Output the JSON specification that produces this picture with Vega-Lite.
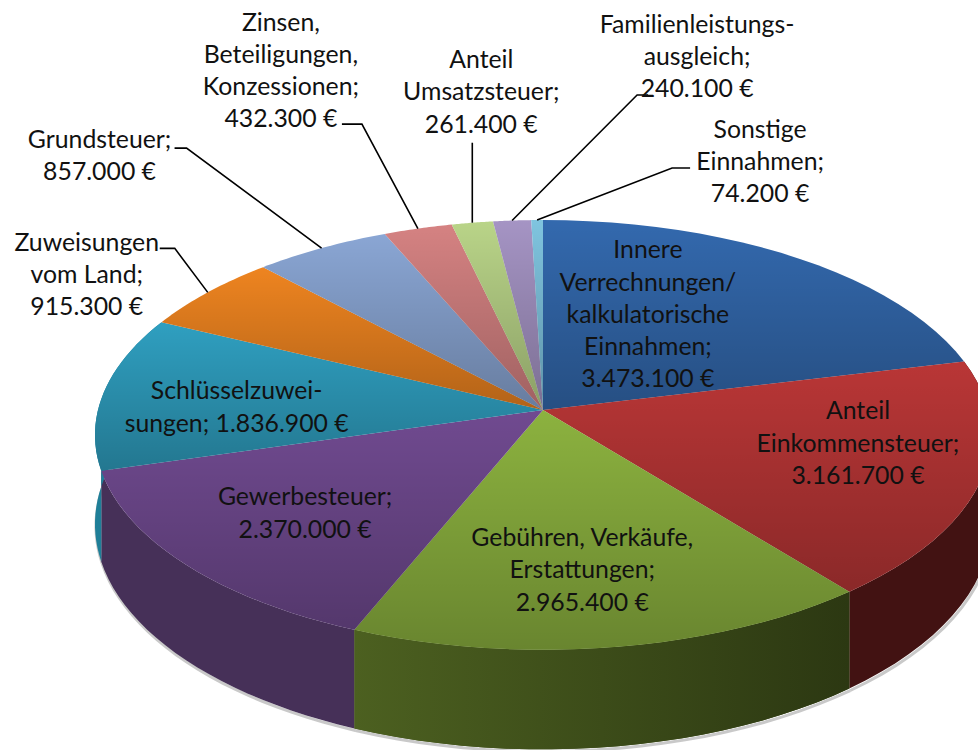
{
"$schema":"https://vega.github.io/schema/vega-lite/v6.json",
"width":978,"height":750,"padding":0,"autosize":{"type":"none"},"background":"white",
"config":{"view":{"stroke":null}},
"data":{"values":[
{"name":"Innere Verrechnungen","value":3473100,"label":"Innere\nVerrechnungen/\nkalkulatorische\nEinnahmen;\n3.473.100 €"},
{"name":"Anteil Einkommensteuer","value":3161700,"label":"Anteil\nEinkommensteuer;\n3.161.700 €"},
{"name":"Gebühren","value":2965400,"label":"Gebühren, Verkäufe,\nErstattungen;\n2.965.400 €"},
{"name":"Gewerbesteuer","value":2370000,"label":"Gewerbesteuer;\n2.370.000 €"},
{"name":"Schlüsselzuweisungen","value":1836900,"label":"Schlüsselzuwei-\nsungen; 1.836.900 €"},
{"name":"Zuweisungen vom Land","value":915300,"label":"Zuweisungen\nvom Land;\n915.300 €"},
{"name":"Grundsteuer","value":857000,"label":"Grundsteuer;\n857.000 €"},
{"name":"Zinsen","value":432300,"label":"Zinsen,\nBeteiligungen,\nKonzessionen;\n432.300 €"},
{"name":"Anteil Umsatzsteuer","value":261400,"label":"Anteil\nUmsatzsteuer;\n261.400 €"},
{"name":"Familienleistungsausgleich","value":240100,"label":"Familienleistungs-\nausgleich;\n240.100 €"},
{"name":"Sonstige Einnahmen","value":74200,"label":"Sonstige\nEinnahmen;\n74.200 €"}
]},
"transform":[
{"joinaggregate":[{"op":"sum","field":"value","as":"total"}]},
{"window":[{"op":"sum","field":"value","as":"cum"}]},
{"calculate":"datum.cum/datum.total*2*PI","as":"a1"},
{"calculate":"(datum.cum-datum.value)/datum.total*2*PI","as":"a0"},
{"calculate":"(datum.a0+datum.a1)/2","as":"mid"},
{"calculate":"datum.mid-0.0436*(1-cos(datum.mid))+0.0524*sin(datum.mid)","as":"mpsi"},
{"calculate":"543+445*sin(datum.mpsi)/(1+0.116*cos(datum.mpsi))","as":"rimx"},
{"calculate":"410-212*cos(datum.mpsi)/(1+0.116*cos(datum.mpsi))","as":"rimy"}
],
"layer":[
{
"transform":[
{"filter":"datum.a0>1.3 && datum.a0<4.6"},
{"calculate":"[0,1,2,3,4,5,6,7,8,9,10,11,12,13,14,15,16,17,18,19,20,21,22,23,24]","as":"k"},
{"flatten":["k"]},
{"calculate":"datum.a0+(datum.a1-datum.a0)*datum.k/24","as":"th"},
{"calculate":"datum.th-0.0436*(1-cos(datum.th))+0.0524*sin(datum.th)","as":"psi"},
{"calculate":"1+0.116*cos(datum.psi)","as":"w"},
{"calculate":"543+445*sin(datum.psi)/datum.w+1","as":"px"},
{"calculate":"410-212*cos(datum.psi)/datum.w+88/datum.w+2","as":"py"}
],
"mark":{"type":"line","color":"#888","opacity":0.45,"strokeWidth":3,"interpolate":"linear"},
"encoding":{
"x":{"field":"px","type":"quantitative","axis":null,"scale":{"domain":[0,978],"nice":false,"zero":false}},
"y":{"field":"py","type":"quantitative","axis":null,"scale":{"domain":[750,0],"nice":false,"zero":false}},
"order":{"field":"k","type":"quantitative"},
"detail":{"field":"name","type":"nominal"}
}
},
{
"transform":[
{"filter":"datum.a0>1.3 && datum.a0<4.6"},
{"calculate":"[0,1,2,3,4,5,6,7,8,9,10,11,12,13,14,15,16,17,18,19,20,21,22,23,24,25,26,27,28,29,30,31,32,33,34,35,36,37,38,39,40,41,42,43,44,45,46,47,48,49]","as":"k"},
{"flatten":["k"]},
{"calculate":"datum.k<=24?datum.k/24:(49-datum.k)/24","as":"tt"},
{"calculate":"datum.a0+(datum.a1-datum.a0)*datum.tt","as":"th"},
{"calculate":"datum.th-0.0436*(1-cos(datum.th))+0.0524*sin(datum.th)","as":"psi"},
{"calculate":"1+0.116*cos(datum.psi)","as":"w"},
{"calculate":"543+445*sin(datum.psi)/datum.w","as":"px"},
{"calculate":"410-212*cos(datum.psi)/datum.w+(datum.k<=24?0:88/datum.w)","as":"py"}
],
"mark":{"type":"line","filled":true,"strokeWidth":0,"interpolate":"linear"},
"encoding":{
"x":{"field":"px","type":"quantitative","axis":null},
"y":{"field":"py","type":"quantitative","axis":null},
"order":{"field":"k","type":"quantitative"},
"fill":{"field":"name","type":"nominal","legend":null,"scale":{
"domain":["Anteil Einkommensteuer","Gebühren","Gewerbesteuer","Schlüsselzuweisungen"],
"range":["#421212","#3c4a18","#463058","#1f7f98"]}}
}
},
{
"transform":[
{"filter":"datum.name=='Gebühren'"},
{"calculate":"[0,1,2,3,4,5,6,7,8,9,10,11,12,13,14,15,16,17,18,19,20,21,22,23,24,25,26,27,28,29,30,31,32,33,34,35,36,37,38,39,40,41,42,43,44,45,46,47,48,49]","as":"k"},
{"flatten":["k"]},
{"calculate":"datum.k<=24?datum.k/24:(49-datum.k)/24","as":"tt"},
{"calculate":"datum.a0+(datum.a1-datum.a0)*datum.tt","as":"th"},
{"calculate":"datum.th-0.0436*(1-cos(datum.th))+0.0524*sin(datum.th)","as":"psi"},
{"calculate":"1+0.116*cos(datum.psi)","as":"w"},
{"calculate":"543+445*sin(datum.psi)/datum.w","as":"px"},
{"calculate":"410-212*cos(datum.psi)/datum.w+(datum.k<=24?0:88/datum.w)","as":"py"}
],
"mark":{"type":"line","filled":true,"strokeWidth":0,"interpolate":"linear","fill":{"gradient":"linear","x1":0,"x2":1,"y1":0,"y2":0,"stops":[{"offset":0,"color":"#4c6020"},{"offset":1,"color":"#2c3812"}]}},
"encoding":{
"x":{"field":"px","type":"quantitative","axis":null},
"y":{"field":"py","type":"quantitative","axis":null},
"order":{"field":"k","type":"quantitative"}
}
},
{
"transform":[
{"calculate":"[-1,0,1,2,3,4,5,6,7,8,9,10,11,12,13,14,15,16,17,18,19,20,21,22,23,24]","as":"k"},
{"flatten":["k"]},
{"calculate":"datum.a0+(datum.a1-datum.a0)*datum.k/24","as":"th"},
{"calculate":"datum.th-0.0436*(1-cos(datum.th))+0.0524*sin(datum.th)","as":"psi"},
{"calculate":"1+0.116*cos(datum.psi)","as":"w"},
{"calculate":"datum.k<0?543:543+445*sin(datum.psi)/datum.w","as":"px"},
{"calculate":"datum.k<0?410:410-212*cos(datum.psi)/datum.w","as":"py"}
],
"mark":{"type":"line","filled":true,"strokeWidth":0,"interpolate":"linear"},
"encoding":{
"x":{"field":"px","type":"quantitative","axis":null},
"y":{"field":"py","type":"quantitative","axis":null},
"order":{"field":"k","type":"quantitative"},
"fill":{"field":"name","type":"nominal","legend":null,"scale":{
"domain":["Innere Verrechnungen","Anteil Einkommensteuer","Gebühren","Gewerbesteuer","Schlüsselzuweisungen","Zuweisungen vom Land","Grundsteuer","Zinsen","Anteil Umsatzsteuer","Familienleistungsausgleich","Sonstige Einnahmen"],
"range":["#3369ae","#b93636","#8cb23f","#704a90","#2f9fc0","#ee8420","#8aa6d4","#d58282","#b9d488","#a594c4","#7fc4df"]}}
}
},
{
"transform":[
{"calculate":"[-1,0,1,2,3,4,5,6,7,8,9,10,11,12,13,14,15,16,17,18,19,20,21,22,23,24]","as":"k"},
{"flatten":["k"]},
{"calculate":"datum.a0+(datum.a1-datum.a0)*datum.k/24","as":"th"},
{"calculate":"datum.th-0.0436*(1-cos(datum.th))+0.0524*sin(datum.th)","as":"psi"},
{"calculate":"1+0.116*cos(datum.psi)","as":"w"},
{"calculate":"datum.k<0?543:543+445*sin(datum.psi)/datum.w","as":"px"},
{"calculate":"datum.k<0?410:410-212*cos(datum.psi)/datum.w","as":"py"}
],
"mark":{"type":"line","filled":true,"strokeWidth":0,"interpolate":"linear","fill":{"gradient":"linear","x1":0,"x2":0,"y1":0,"y2":1,"stops":[{"offset":0,"color":"rgba(0,0,0,0)"},{"offset":1,"color":"rgba(0,0,0,0.25)"}]}},
"encoding":{
"x":{"field":"px","type":"quantitative","axis":null},
"y":{"field":"py","type":"quantitative","axis":null},
"order":{"field":"k","type":"quantitative"},
"detail":{"field":"name","type":"nominal"}
}
},
{
"transform":[
{"filter":"datum.a0>5"},
{"calculate":"{'Zuweisungen vom Land':[-33,-44,-48,-44],'Grundsteuer':[-135,-100,-147,-100],'Zinsen':[-56,-104.5,-76,-104.5],'Anteil Umsatzsteuer':[0,-80,0,-80],'Familienleistungsausgleich':[125,-125.5,136,-125.5],'Sonstige Einnahmen':[135,-52,153,-52]}[datum.name]","as":"off"},
{"calculate":"[0,1,2]","as":"k"},
{"flatten":["k"]},
{"calculate":"datum.k==0?datum.rimx:datum.rimx+datum.off[datum.k==1?0:2]","as":"px"},
{"calculate":"datum.k==0?datum.rimy:datum.rimy+datum.off[datum.k==1?1:3]","as":"py"}
],
"mark":{"type":"line","color":"#000","strokeWidth":1.6,"interpolate":"linear"},
"encoding":{
"x":{"field":"px","type":"quantitative","axis":null},
"y":{"field":"py","type":"quantitative","axis":null},
"order":{"field":"k","type":"quantitative"},
"detail":{"field":"name","type":"nominal"}
}
},
{
"transform":[
{"calculate":"{'Innere Verrechnungen':[-152,-9],'Anteil Einkommensteuer':[-122,-71.5],'Gebühren':[-36,-109],'Gewerbesteuer':[119,-68],'Schlüsselzuweisungen':[133,-2],'Zuweisungen vom Land':[-121,-50],'Grundsteuer':[-222,-109],'Zinsen':[-137,-206.5],'Anteil Umsatzsteuer':[9,-163],'Familienleistungsausgleich':[185,-196.5],'Sonstige Einnahmen':[223,-91]}[datum.name]","as":"off"},
{"calculate":"datum.rimx+datum.off[0]","as":"lx"},
{"calculate":"datum.rimy+datum.off[1]+1.5","as":"ly"}
],
"mark":{"type":"text","font":"Lato","fontSize":24.8,"lineHeight":32.2,"lineBreak":"\n","align":"center","baseline":"middle","color":"#111"},
"encoding":{
"x":{"field":"lx","type":"quantitative","axis":null},
"y":{"field":"ly","type":"quantitative","axis":null},
"text":{"field":"label","type":"nominal"}
}
}
],
"resolve":{"scale":{"fill":"independent"}}
}
